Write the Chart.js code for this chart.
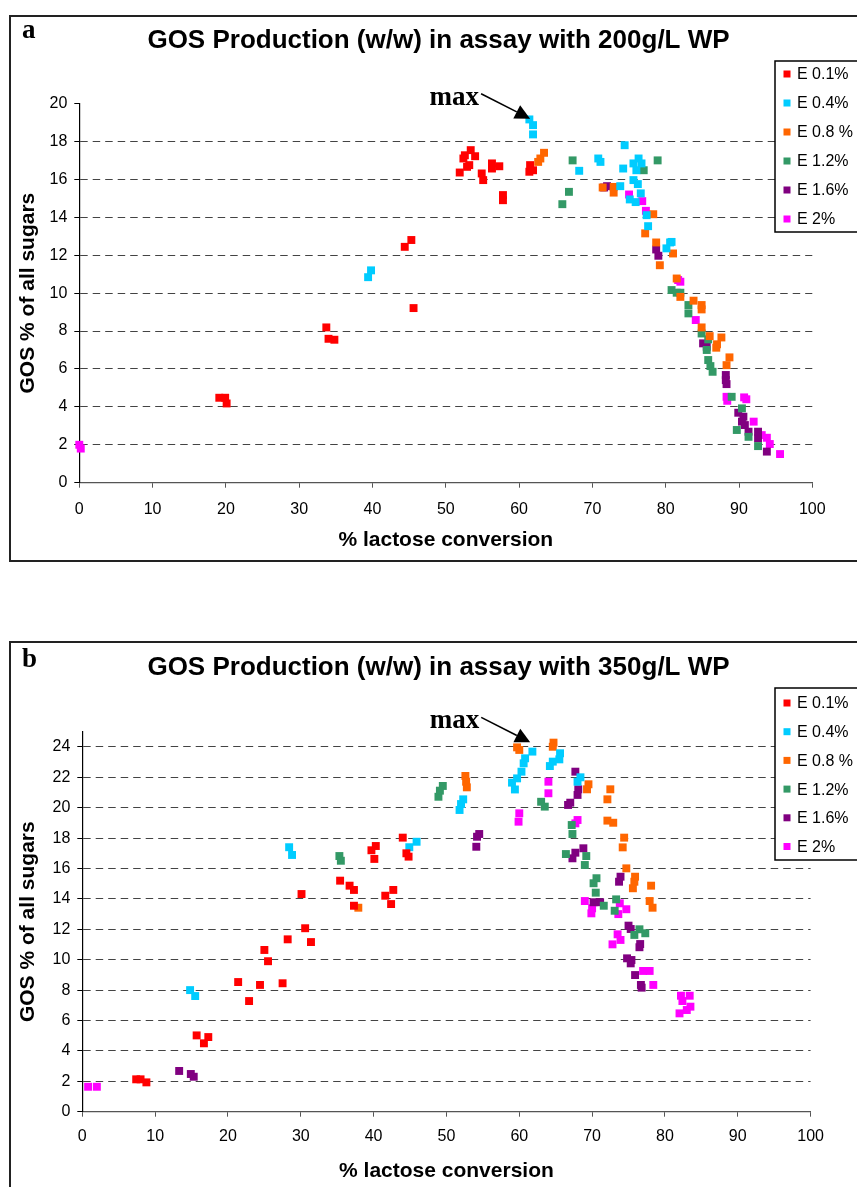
<!DOCTYPE html>
<html>
<head>
<meta charset="utf-8">
<script src="https://cdn.jsdelivr.net/npm/chart.js@4.4.1/dist/chart.umd.min.js"></script>
<style>
  html, body { margin: 0; padding: 0; background: #fff; width: 857px; height: 1187px; overflow: hidden; position: relative; }
  .frame { position: absolute; left: 9px; width: 900px; border: 2px solid #222; box-sizing: border-box; }
  #frameA { top: 15px; height: 547px; }
  #frameB { top: 641px; height: 600px; }
  canvas { position: absolute; left: 0; }
  #chartA { top: 0; }
  #chartB { top: 627px; }
</style>
</head>
<body>
<div class="frame" id="frameA"></div>
<div class="frame" id="frameB"></div>
<canvas id="chartA" width="857" height="600"></canvas>
<canvas id="chartB" width="857" height="560"></canvas>
<script>
// Enzyme dose labels (legend)
const enzymeLabels = ['E 0.1%', 'E 0.4%', 'E 0.8 %', 'E 1.2%', 'E 1.6%', 'E 2%'];
const enzymeColors = ['#FF0000', '#00CCFF', '#FF6600', '#339966', '#800080', '#FF00FF'];

// Axis ticks
const xTicks = { min: 0, max: 100, step: 10 };
const yTicksA = { min: 0, max: 20, step: 2 };
const yTicksB = { min: 0, max: 25, step: 2 };

// Assay with 200 g/L WP: [% lactose conversion, GOS % of all sugars]
const a_E01 = [[19.1,4.48],[19.9,4.48],[20.1,4.18],[33.7,8.19],[34.0,7.59],[34.8,7.54],[44.4,12.44],[45.3,12.8],[45.6,9.21],
  [51.9,16.36],[52.4,17.1],[52.6,17.27],[53.4,17.54],[54.0,17.22],[52.9,16.66],[53.2,16.75],[54.9,16.31],[55.1,15.96],
  [56.3,16.84],[56.3,16.57],[57.3,16.69],[57.8,15.17],[57.8,14.9],[61.5,16.75],[61.4,16.4],[61.9,16.48]];
const a_E04 = [[39.4,10.84],[39.8,11.2],[61.4,19.16],[61.9,18.86],[61.9,18.37],[68.2,16.45],[70.8,17.1],[71.1,16.92],
  [74.4,17.8],[75.6,16.84],[76.3,17.1],[76.7,16.84],[74.2,16.57],[76.0,16.48],[73.8,15.64],[75.6,15.96],[76.2,15.75],
  [76.6,15.26],[75.1,14.94],[75.9,14.8],[77.4,14.11],[77.6,13.53],[80.6,12.67],[80.1,12.36],[80.8,12.7]];
const a_E08 = [[62.6,16.92],[62.9,17.1],[63.4,17.4],[71.4,15.57],[72.9,15.6],[72.9,15.3],[78.3,14.16],[77.2,13.15],
  [78.7,12.67],[81.0,12.09],[79.2,11.47],[81.5,10.77],[82.0,9.8],[83.8,9.6],[84.9,9.37],[84.9,9.14],[84.9,8.19],
  [86.0,7.73],[87.6,7.66],[87.0,7.3],[86.9,7.12],[88.7,6.61],[88.3,6.2]];
const a_E12 = [[65.9,14.69],[66.8,15.34],[67.3,17.0],[77.0,16.48],[78.9,17.0],[80.8,10.16],[81.5,10.02],[82.0,10.02],
  [83.1,9.37],[83.1,8.93],[84.9,7.87],[85.8,7.56],[85.6,7.0],[85.8,6.47],[86.1,6.15],[86.4,5.85],[89.0,4.53],
  [90.4,3.92],[89.7,2.78],[91.3,2.42],[92.6,1.93]];
const a_E16 = [[71.6,15.57],[72.0,15.64],[78.7,12.3],[79.0,11.97],[85.1,7.35],[85.6,7.17],[88.2,5.68],[88.2,5.41],
  [88.3,5.2],[89.9,3.69],[90.6,3.48],[90.4,3.22],[90.8,3.04],[91.3,2.69],[92.6,2.69],[92.6,2.34],[93.8,1.64]];
const a_E20 = [[0.0,2.0],[0.2,1.8],[75.0,15.2],[76.8,14.85],[77.3,14.34],[81.7,10.69],[82.0,10.6],[84.1,8.58],
  [88.3,4.53],[88.4,4.32],[90.7,4.5],[91.0,4.4],[92.0,3.22],[93.1,2.51],[93.8,2.37],[94.2,2.04],[95.6,1.51]];

// Assay with 350 g/L WP
const b_E01 = [[7.4,2.13],[8.0,2.13],[8.8,1.93],[15.7,5.02],[16.7,4.5],[17.3,4.91],[21.4,8.53],[22.9,7.28],[24.4,8.34],
  [25.0,10.64],[25.5,9.9],[27.5,8.45],[28.2,11.34],[30.1,14.32],[30.6,12.07],[31.4,11.16],[35.4,15.2],[36.7,14.87],
  [37.3,14.59],[37.3,13.55],[39.7,17.2],[40.3,17.48],[40.1,16.63],[41.6,14.21],[42.7,14.59],[42.4,13.66],
  [44.0,18.03],[44.5,17.0],[44.8,16.78]];
const b_E04 = [[14.8,8.0],[15.5,7.61],[28.4,17.4],[28.8,16.89],[44.9,17.4],[45.9,17.76],[51.8,19.85],[52.0,20.24],
  [52.3,20.55],[59.0,21.65],[59.4,21.2],[59.7,21.93],[60.3,22.37],[60.6,22.92],[60.8,23.25],[61.8,23.69],[64.2,22.74],
  [64.6,23.03],[65.5,23.18],[65.6,23.58],[68.4,22.0],[68.0,21.71]];
const b_E08 = [[37.9,13.42],[52.6,22.09],[52.7,21.71],[52.8,21.34],[59.7,23.97],[60.0,23.8],[64.7,24.28],[64.6,24.01],
  [69.5,21.54],[69.3,21.21],[72.5,21.21],[72.1,20.55],[72.1,19.15],[72.9,19.01],[74.4,18.03],[74.2,17.39],[74.7,16.01],
  [75.9,15.46],[75.8,15.13],[75.6,14.7],[78.1,14.87],[77.9,13.86],[78.3,13.42]];
const b_E12 = [[35.3,16.82],[35.5,16.51],[48.9,20.72],[49.1,21.12],[49.5,21.43],[63.0,20.39],[63.5,20.07],[67.2,18.86],
  [67.3,18.27],[66.4,16.95],[69.2,16.82],[69.0,16.23],[70.6,15.36],[70.2,15.03],[70.5,14.41],[71.6,13.55],[73.3,13.97],
  [73.1,13.22],[76.5,12.0],[77.3,11.74],[75.8,11.63]];
const b_E16 = [[13.3,2.68],[14.9,2.48],[15.3,2.3],[54.1,17.43],[54.2,18.09],[54.5,18.27],[67.7,22.37],[68.1,21.21],
  [68.0,20.84],[67.0,20.33],[66.7,20.18],[68.8,17.33],[67.7,17.04],[67.3,16.67],[73.9,15.46],[73.7,15.13],[70.2,13.78],
  [71.1,13.78],[75.0,12.24],[75.3,12.02],[76.6,11.03],[76.5,10.82],[74.8,10.09],[75.4,9.98],[75.3,9.76],[75.9,8.99],
  [76.7,8.34],[76.8,8.16]];
const b_E20 = [[0.8,1.64],[2.0,1.64],[59.9,19.08],[60.0,19.63],[64.0,20.95],[64.0,21.71],[67.7,18.97],[68.0,19.19],
  [69.0,13.86],[70.0,13.38],[69.9,13.05],[73.8,13.71],[74.7,13.32],[73.6,13.0],[73.5,11.67],[73.9,11.3],[72.8,11.01],
  [77.0,9.26],[77.9,9.26],[78.4,8.34],[82.2,7.63],[83.4,7.63],[82.4,7.28],[83.5,6.91],[83.0,6.69],[82.0,6.47]];

const SANS = '"Liberation Sans", Arial, Helvetica, sans-serif';
const SERIF = '"Liberation Serif", "Times New Roman", serif';

// Titles, panel letters, the "max" pointer and the boxed legend
const decorPlugin = {
  id: 'decor',
  afterDraw(chart, args, o) {
    const ctx = chart.ctx;
    const xs = chart.scales.x, ys = chart.scales.y;
    ctx.save();
    ctx.fillStyle = '#000';

    ctx.font = 'bold 26px ' + SANS;
    ctx.textAlign = 'center';
    ctx.textBaseline = 'middle';
    ctx.fillText(o.title, o.titleX, o.titleY);

    ctx.font = 'bold 27px ' + SERIF;
    ctx.textAlign = 'left';
    ctx.textBaseline = 'alphabetic';
    ctx.fillText(o.letter, 22, o.letterY);

    // pointer arrow to the maximum
    const tipX = xs.getPixelForValue(o.maxTip[0]);
    const tipY = ys.getPixelForValue(o.maxTip[1]);
    const tailX = tipX - 49, tailY = tipY - 25;
    const len = Math.hypot(tipX - tailX, tipY - tailY);
    const dx = (tipX - tailX) / len, dy = (tipY - tailY) / len;
    const headL = 15, headW = 7.5;
    const bx = tipX - dx * headL, by = tipY - dy * headL;
    ctx.strokeStyle = '#000';
    ctx.lineWidth = 1.6;
    ctx.beginPath();
    ctx.moveTo(tailX, tailY);
    ctx.lineTo(bx, by);
    ctx.stroke();
    ctx.beginPath();
    ctx.moveTo(tipX, tipY);
    ctx.lineTo(bx - dy * headW, by + dx * headW);
    ctx.lineTo(bx + dy * headW, by - dx * headW);
    ctx.closePath();
    ctx.fill();
    ctx.font = 'bold 27px ' + SERIF;
    ctx.textAlign = 'right';
    ctx.fillText('max', tailX - 2, tailY + 11);

    // legend
    const L = o.legend;
    ctx.fillStyle = '#fff';
    ctx.fillRect(L.left, L.top, 200, L.bottom - L.top);
    ctx.strokeStyle = '#000';
    ctx.lineWidth = 1.5;
    ctx.strokeRect(L.left, L.top, 200, L.bottom - L.top);
    ctx.font = '16px ' + SANS;
    ctx.textAlign = 'left';
    ctx.textBaseline = 'middle';
    chart.data.datasets.forEach((ds, i) => {
      const cy = L.first + i * L.step;
      ctx.fillStyle = ds.backgroundColor;
      ctx.fillRect(L.left + 8.5, cy - 3.5, 7, 7);
      ctx.fillStyle = '#000';
      ctx.fillText(ds.label, L.left + 22, cy + 1);
    });
    ctx.restore();
  }
};

function toPoints(arr) { return arr.map(p => ({ x: p[0], y: p[1] })); }

function makeChart(id, series, yTicks, geo, deco) {
  const datasets = series.map((s, i) => ({
    label: enzymeLabels[i],
    data: toPoints(s),
    backgroundColor: enzymeColors[i],
    borderColor: enzymeColors[i],
    pointStyle: 'rect',
    pointRadius: 5.6,
    pointBorderWidth: 0,
    pointHoverRadius: 5.6,
    showLine: false,
    clip: false
  }));
  return new Chart(document.getElementById(id), {
    type: 'scatter',
    data: { datasets },
    plugins: [decorPlugin],
    options: {
      responsive: false,
      animation: false,
      devicePixelRatio: 1,
      layout: { padding: { left: 0, top: geo.top, right: geo.right, bottom: 0 } },
      plugins: {
        legend: { display: false },
        tooltip: { enabled: false },
        decor: deco
      },
      scales: {
        x: {
          type: 'linear',
          min: xTicks.min, max: xTicks.max,
          afterFit: s => { s.height = geo.xHeight; },
          ticks: { stepSize: xTicks.step, color: '#000', font: { family: SANS, size: 16 }, padding: geo.xTickPad, maxRotation: 0 },
          grid: { drawOnChartArea: false, drawTicks: true, tickLength: 5, tickColor: '#555', lineWidth: 1 },
          border: { display: true, color: '#555', width: 1.2 },
          title: { display: true, text: '% lactose conversion', color: '#000',
                   font: { family: SANS, size: 21, weight: 'bold' }, padding: { top: 0, bottom: geo.xTitlePad } }
        },
        y: {
          type: 'linear',
          min: yTicks.min, max: yTicks.max,
          afterFit: s => { s.width = geo.yWidth; },
          ticks: { stepSize: yTicks.step, includeBounds: false, color: '#000', font: { family: SANS, size: 16 }, padding: 7 },
          grid: {
            drawTicks: true, tickLength: 5, tickColor: '#000', lineWidth: 1,
            color: c => (c.tick && (c.tick.value === 0 || c.tick.value === 20 && yTicks.max === 20)) ? 'rgba(0,0,0,0)' : '#444'
          },
          border: { display: true, color: '#000', width: 1.2, dash: [7.5, 5] },
          title: { display: true, text: 'GOS % of all sugars', color: '#000',
                   font: { family: SANS, size: 21, weight: 'bold' }, padding: { top: 15.4, bottom: 0 } }
        }
      }
    }
  });
}

makeChart('chartA', [a_E01, a_E04, a_E08, a_E12, a_E16, a_E20], yTicksA,
  { top: 103.5, right: 44.7, yWidth: 79.3, xHeight: 117.3, xTickPad: 12, xTitlePad: 47.4 },
  { title: 'GOS Production (w/w) in assay with 200g/L WP', titleX: 438.5, titleY: 41, letter: 'a', letterY: 38,
    maxTip: [61.5, 19.2], legend: { left: 775, top: 61, bottom: 232, first: 74, step: 29 } });

makeChart('chartB', [b_E01, b_E04, b_E08, b_E12, b_E16, b_E20], yTicksB,
  { top: 104.7, right: 46.4, yWidth: 82.3, xHeight: 75.3, xTickPad: 10.4, xTitlePad: 2.7 },
  { title: 'GOS Production (w/w) in assay with 350g/L WP', titleX: 438.5, titleY: 41, letter: 'b', letterY: 40,
    maxTip: [61.5, 24.3], legend: { left: 775, top: 61, bottom: 233, first: 76, step: 28.7 } });
</script>
</body>
</html>
